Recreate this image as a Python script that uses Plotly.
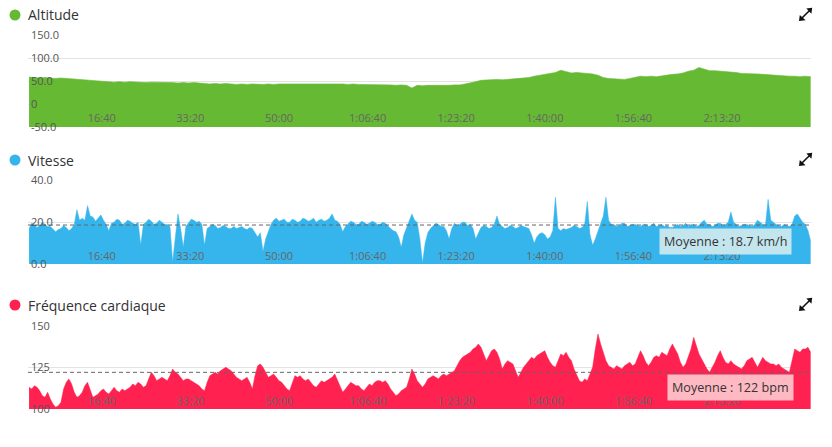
import numpy as np
import plotly.graph_objects as go

# ---------------- data ----------------
ALT_T0, ALT_STEP = 180, 60     # altitude samples (seconds)
T0, STEP = 180, 30             # speed / heart-rate samples (seconds)

altitude = [
    59, 58, 57, 58, 57, 56, 57, 56, 55, 55,
    53, 52, 51, 50, 49, 49, 48, 49, 48, 49,
    48, 48, 47, 48, 48, 47, 48, 47, 46, 47,
    46, 47, 46, 45, 44, 45, 44, 45, 44, 43,
    44, 43, 44, 43, 43, 44, 43, 44, 44, 45,
    44, 45, 45, 44, 45, 45, 44, 45, 44, 44,
    43, 44, 43, 43, 42, 43, 42, 42, 42, 41,
    42, 41, 35, 41, 40, 41, 41, 40, 41, 41,
    42, 42, 44, 46, 49, 52, 53, 53, 54, 53,
    54, 54, 55, 56, 58, 61, 63, 66, 68, 69,
    74, 71, 68, 69, 68, 67, 66, 63, 58, 56,
    55, 54, 54, 56, 58, 61, 60, 61, 60, 62,
    63, 65, 66, 68, 72, 74, 80, 76, 73, 73,
    72, 72, 70, 69, 67, 67, 66, 66, 65, 64,
    63, 63, 62, 61, 61, 60, 61, 60,
]

vitesse = [
    17, 19.5, 19, 17.5, 18.5, 20, 19, 18, 18, 16.5,
    15.5, 16.5, 17, 18.5, 17.5, 16, 17, 19, 26, 21,
    22, 21, 28, 23, 22.5, 20.5, 22, 23.5, 21, 19,
    16, 19.5, 20, 21.5, 21, 19, 19.5, 21, 20.5, 19.5,
    19, 20, 9, 19, 20, 21.5, 20.5, 19, 19.5, 21,
    20, 19, 19, 18, 1, 12, 24, 17, 8, 18,
    20, 21.5, 21, 20, 20.5, 19, 9, 17, 18, 19,
    18.5, 17, 17.5, 18.5, 18, 17, 17, 18, 17, 17.5,
    18, 17, 16.5, 17.5, 17, 15, 13, 15, 6, 12,
    16, 19, 21, 22, 20.5, 21, 21.5, 20, 20, 21.5,
    21, 20, 20.5, 22, 21.5, 20.5, 21, 22, 20, 21,
    21.5, 20.5, 21, 22, 24, 21, 20.5, 19, 15.5, 18,
    19.5, 20.5, 20, 19, 19, 20.5, 20, 19, 19.5, 20.5,
    20, 19, 19, 20, 19.5, 18, 17, 16, 15.5, 13,
    8, 14, 17.5, 20, 24, 21, 20, 12, 0.5, 10,
    15, 17, 18.5, 19.5, 19, 18, 18, 16, 12, 17,
    19.5, 18.5, 19, 20, 20, 18.5, 19, 17, 12, 15,
    17.5, 18.5, 18, 17, 17.5, 19, 23, 19, 18, 17,
    17.5, 18.5, 18, 17, 17.5, 18.5, 18, 17.5, 17, 14,
    10, 13, 14.5, 15, 14, 12, 13, 16, 32, 17,
    16, 17, 16.5, 17, 17.5, 18.5, 18, 17, 17.5, 19,
    30, 14, 9, 12, 16, 19, 23, 32, 21, 19,
    19, 18, 18.5, 19.5, 19.5, 18, 18.5, 19, 19, 18.5,
    18, 19, 19, 18, 18.5, 19.5, 18, 18.5, 19, 18,
    18.5, 17.5, 17.5, 18.5, 19, 18, 18.5, 19.5, 18, 19,
    19, 18, 18.5, 20, 21, 19, 19, 18, 18.5, 19.5,
    19.5, 18.5, 19, 20, 25, 20, 19, 18, 18.5, 19,
    19, 18.5, 18, 19, 21, 20, 19, 18.5, 31, 21,
    20, 19, 18.5, 18, 19, 18.5, 18, 19, 23, 24,
    22, 20, 19, 16, 11,
]

frequence = [
    113, 112, 114, 113, 111, 108, 107, 110, 106, 103,
    101, 102, 104, 112, 116, 118, 115, 110, 107, 108,
    110, 114, 116, 111, 107, 108, 109, 111, 112, 110,
    109, 111, 113, 111, 110, 112, 111, 112, 113, 115,
    114, 116, 115, 113, 114, 118, 122, 120, 117, 118,
    119, 118, 117, 120, 124, 122, 121, 119, 117, 118,
    118, 117, 116, 115, 114, 112, 111, 116, 120, 121,
    122, 121, 123, 124, 125, 124, 123, 121, 119, 118,
    117, 118, 119, 116, 112, 120, 126, 127, 125, 122,
    119, 120, 121, 119, 117, 116, 114, 112, 111, 116,
    120, 119, 120, 118, 117, 118, 116, 114, 113, 115,
    117, 116, 117, 118, 119, 121, 117, 113, 110, 112,
    114, 116, 115, 114, 114, 112, 111, 113, 115, 114,
    116, 117, 117, 116, 117, 115, 112, 110, 108, 109,
    111, 112, 113, 118, 124, 121, 117, 115, 113, 115,
    118, 119, 120, 119, 118, 120, 121, 120, 121, 122,
    123, 126, 129, 131, 132, 133, 134, 136, 137, 139,
    137, 133, 129, 132, 135, 136, 134, 130, 124, 127,
    129, 128, 127, 123, 119, 122, 125, 127, 129, 131,
    130, 132, 133, 134, 135, 131, 128, 126, 125, 129,
    133, 132, 134, 131, 129, 124, 120, 117, 116, 118,
    117, 121, 125, 136, 145, 139, 134, 129, 126, 125,
    124, 126, 125, 124, 126, 127, 128, 126, 127, 131,
    135, 132, 128, 126, 128, 131, 132, 131, 134, 133,
    132, 136, 139, 136, 133, 128, 125, 127, 131, 136,
    143, 138, 133, 130, 127, 124, 122, 125, 128, 132,
    135, 131, 128, 127, 129, 127, 126, 125, 124, 126,
    129, 130, 131, 128, 125, 128, 131, 129, 128, 127,
    127, 126, 127, 125, 124, 123, 122, 129, 136, 135,
    134, 136, 136, 137, 134,
]

moyenne_vitesse = 18.7
moyenne_fc = 122

tick_vals = [1000, 2000, 3000, 4000, 5000, 6000, 7000, 8000]
tick_text = ["16:40", "33:20", "50:00", "1:06:40", "1:23:20", "1:40:00", "1:56:40", "2:13:20"]

titles = ["Altitude", "Vitesse", "Fréquence cardiaque"]
colors = ["#66b933", "#35b5ec", "#ff2150"]

alt_ticks = [-50, 0, 50, 100, 150]
alt_labels = ["-50.0", "0", "50.0", "100.0", "150.0"]
spd_ticks = [0, 20, 40]
spd_labels = ["0.0", "20.0", "40.0"]
hr_ticks = [100, 125, 150]
hr_labels = ["100", "125", "150"]

alt_range = [-50, 151]
spd_range = [0, 40.3]
hr_range = [100, 150.4]

# ---------------- figure ----------------
W, H = 832, 447
FONT = "Open Sans"
t_alt = ALT_T0 + ALT_STEP * np.arange(len(altitude))
t_30 = T0 + STEP * np.arange(len(vitesse))
x_range = [168, 9004]

def px(p):   # reference pixel x -> paper
    return p / W

def py(p):   # reference pixel y -> paper
    return 1 - p / H

fig = go.Figure()

# altitude: fill down to the axis minimum
fig.add_trace(go.Scatter(x=t_alt, y=[alt_range[0]] * len(t_alt), mode="lines",
                         line=dict(width=0, color=colors[0]), hoverinfo="skip",
                         showlegend=False, xaxis="x", yaxis="y"))
fig.add_trace(go.Scatter(x=t_alt, y=altitude, mode="lines", fill="tonexty",
                         line=dict(width=0.6, color=colors[0]), fillcolor=colors[0],
                         showlegend=False, xaxis="x", yaxis="y"))
fig.add_trace(go.Scatter(x=t_30, y=vitesse, mode="lines", fill="tozeroy",
                         line=dict(width=0.5, color=colors[1]), fillcolor=colors[1],
                         showlegend=False, xaxis="x2", yaxis="y2"))
fig.add_trace(go.Scatter(x=t_30, y=frequence, mode="lines", fill="tozeroy",
                         line=dict(width=0.5, color=colors[2]), fillcolor=colors[2],
                         showlegend=False, xaxis="x3", yaxis="y3"))

xdom = [px(28), px(811)]
ydoms = [[py(127), py(35)], [py(264), py(180)], [py(409), py(325)]]
# x labels sit inside each panel, just above its bottom edge
x_pos = [py(110), py(248), py(393)]

def xcommon(pos):
    return dict(domain=xdom, range=x_range, showgrid=False, zeroline=False,
                showline=False, ticks="", tickvals=tick_vals, ticktext=tick_text,
                anchor="free", position=pos, layer="above traces",
                tickfont=dict(family=FONT, size=11, color="#666666"), fixedrange=True)

def ycommon(dom, rng, tv, tt):
    return dict(domain=dom, range=rng, tickvals=tv, ticktext=tt, showgrid=True,
                gridcolor="#e3e3e3", gridwidth=1, zeroline=False, showline=False,
                ticks="", ticklabelposition="inside", ticklabeloverflow="hide past div",
                automargin=False, layer="above traces",
                tickfont=dict(family=FONT, size=11, color="#555555"), fixedrange=True)

fig.update_layout(
    width=W, height=H, margin=dict(l=0, r=0, t=0, b=0, autoexpand=False),
    paper_bgcolor="white", plot_bgcolor="white", showlegend=False,
    xaxis=xcommon(x_pos[0]),
    xaxis2=xcommon(x_pos[1]),
    xaxis3=xcommon(x_pos[2]),
    yaxis=dict(anchor="x", **ycommon(ydoms[0], alt_range, alt_ticks, alt_labels)),
    yaxis2=dict(anchor="x2", **ycommon(ydoms[1], spd_range, spd_ticks, spd_labels)),
    yaxis3=dict(anchor="x3", **ycommon(ydoms[2], hr_range, hr_ticks, hr_labels)),
)

def tri(pts):
    return "M " + " L ".join(f"{px(a):.5f},{py(b):.5f}" for a, b in pts) + " Z"

shapes = []
annotations = []
title_y = [15, 160, 305]
for k in range(3):
    ty = title_y[k]
    shapes.append(dict(type="circle", xref="paper", yref="paper",
                       x0=px(9.5), x1=px(20.5), y0=py(ty + 5.5), y1=py(ty - 5.5),
                       fillcolor=colors[k], line=dict(width=0)))
    annotations.append(dict(text=titles[k], xref="paper", yref="paper",
                            x=px(26), y=py(ty), xanchor="left", yanchor="middle",
                            showarrow=False, font=dict(family=FONT, size=14, color="#333333")))
    # expand icon: two diagonal arrows
    o = ty - 15
    shapes.append(dict(type="path", xref="paper", yref="paper",
                       path=tri([(806.3, 8.6 + o), (812.2, 7.8 + o), (811.4, 13.8 + o)]),
                       fillcolor="#111111", line=dict(width=0)))
    shapes.append(dict(type="path", xref="paper", yref="paper",
                       path=tri([(799.0, 21.0 + o), (799.8, 15.0 + o), (805.6, 20.2 + o)]),
                       fillcolor="#111111", line=dict(width=0)))
    shapes.append(dict(type="line", xref="paper", yref="paper",
                       x0=px(802.0), y0=py(18.0 + o), x1=px(809.3), y1=py(10.7 + o),
                       line=dict(color="#111111", width=1.6)))

# average lines
shapes.append(dict(type="line", xref="paper", yref="y2", x0=xdom[0], x1=xdom[1],
                   y0=moyenne_vitesse, y1=moyenne_vitesse,
                   line=dict(color="#666666", width=1, dash="4px,3px")))
shapes.append(dict(type="line", xref="paper", yref="y3", x0=xdom[0], x1=xdom[1],
                   y0=moyenne_fc, y1=moyenne_fc,
                   line=dict(color="#666666", width=1, dash="4px,3px")))

annotations.append(dict(text=f"Moyenne : {moyenne_vitesse} km/h", xref="paper", yref="paper",
                        x=px(725), y=py(241), xanchor="center", yanchor="middle",
                        showarrow=False, bgcolor="#c3e6ee", borderpad=4,
                        font=dict(family=FONT, size=12.6, color="#333333")))
annotations.append(dict(text=f"Moyenne : {moyenne_fc} bpm", xref="paper", yref="paper",
                        x=px(730), y=py(387), xanchor="center", yanchor="middle",
                        showarrow=False, bgcolor="#ffb9c3", borderpad=4,
                        font=dict(family=FONT, size=12.6, color="#333333")))

fig.update_layout(shapes=shapes, annotations=annotations)

# remove the default page margin so the figure sits at the window's top-left corner
fig.write_html("out.html",
               config={"displayModeBar": False},
               post_script="document.body.style.margin='0';"
                           "document.documentElement.style.overflow='hidden';")
